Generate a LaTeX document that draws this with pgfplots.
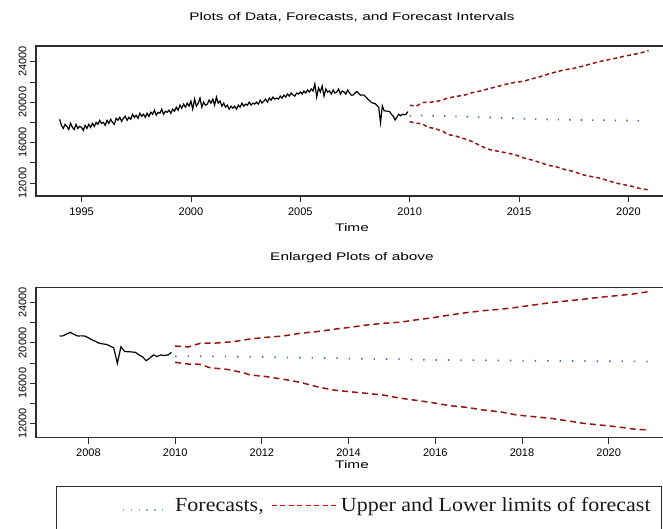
\documentclass[border=0pt]{standalone}
\usepackage{fontspec}
\setmainfont{Liberation Serif}
\newfontfamily\arial{Liberation Sans}
\newfontfamily\titlefont[FakeStretch=1.4]{Liberation Sans}
\newfontfamily\legfont[FakeStretch=1.1]{Liberation Serif}
\usepackage{pgfplots}
\usepackage{pgfplotstable}
\pgfplotsset{compat=1.18}
\definecolor{fred}{RGB}{150,20,20}
\definecolor{fblue}{RGB}{60,110,185}
\definecolor{lblue}{RGB}{125,175,228}
\definecolor{framec}{RGB}{45,45,45}

\pgfplotstableread{
y
18300
17700
17400
17800
17600
17300
17900
17500
17300
17800
17400
17600
17500
17200
17700
17400
17800
17500
17900
17600
18000
17800
18200
17900
18000
17700
18200
17900
18300
18000
17800
18400
18200
18500
18100
18400
18600
18200
18500
18300
18800
18500
18700
18400
18900
18600
18800
18500
18900
18600
19000
18800
19200
18700
19000
18900
19300
18800
19100
19000
19200
18900
19300
19100
19500
19200
19700
19400
19800
19500
19900
19600
20100
19300
20300
19600
19900
20400
19500
20000
19700
19800
20200
19900
20300
19700
20500
19900
20100
19600
19900
19500
19700
19300
19600
19400
19600
19300
19700
19500
19900
19600
19800
19700
20000
19700
19900
19800
20000
19800
20200
19900
20100
20300
20000
20400
20200
20500
20300
20400
20300
20600
20400
20700
20500
20800
20600
20900
20700
20600
20900
20800
21000
20800
21100
20900
21200
21000
21300
21100
21800
20500
21400
21000
21600
20600
21300
21000
21100
20800
21200
20900
21000
21300
20800
21100
21000
20800
21200
20900
20690
20700
20900
21050
20850
20690
20700
20690
20500
20300
20150
19960
19900
19850
19690
19500
17970
19620
19150
19120
19100
19060
18800
18600
18230
18500
18800
18650
18800
18750
18800
19060
}\obstab

\pgfplotstableread{
x y
2010.00 19690
2010.30 19600
2010.58 19960
2010.96 19990
2011.34 20120
2011.73 20390
2012.11 20560
2012.50 20690
2012.88 20950
2013.27 21120
2013.65 21350
2014.03 21550
2014.42 21780
2014.80 21950
2015.19 22060
2015.57 22300
2015.95 22510
2016.34 22780
2016.72 23010
2017.11 23210
2017.49 23340
2017.88 23540
2018.26 23770
2018.65 24000
2019.03 24170
2019.41 24340
2019.80 24540
2020.18 24700
2020.57 24870
2020.92 25100
}\uppertab

\pgfplotstableread{
x y
2010.00 18070
2010.30 17900
2010.58 17870
2010.80 17530
2011.19 17370
2011.57 17040
2011.73 16810
2012.11 16640
2012.50 16380
2012.88 16080
2013.27 15640
2013.65 15310
2014.03 15140
2014.42 14980
2014.80 14810
2015.19 14500
2015.57 14280
2015.95 14040
2016.34 13750
2016.72 13590
2017.11 13320
2017.49 13150
2017.88 12830
2018.26 12660
2018.65 12500
2019.03 12260
2019.41 12000
2019.80 11830
2020.18 11660
2020.57 11430
2020.92 11330
}\lowertab

\pgfplotstableread{
x y
2010.00 18650
2010.50 18680
2011.00 18650
2012.00 18600
2013.00 18520
2014.00 18450
2015.00 18380
2016.00 18300
2017.00 18270
2018.00 18230
2019.00 18200
2020.00 18180
2020.92 18150
}\fcasttab

\pgfplotsset{
  tsaxis/.style={
    scale only axis, width=636pt, height=150pt,
    axis line style={framec, line width=1.1pt},
    tick align=outside, xtick pos=bottom, ytick pos=left,
    major tick length=6pt,
    tick style={framec, line width=0.8pt},
    scaled y ticks=false, scaled x ticks=false,
    ytick={12000,14000,16000,18000,20000,22000,24000},
    yticklabels={12000,,16000,,20000,,24000},
    yticklabel style={rotate=90, anchor=south, font=\arial\fontsize{11}{12}\selectfont},
    xticklabel style={font=\arial\fontsize{11}{12}\selectfont, yshift=-2pt},
    clip=true,
  },
}

\begin{document}
\begin{tikzpicture}
\node[font=\titlefont\fontsize{11}{13}\selectfont] at (352pt,-17.5pt) {Plots of Data, Forecasts, and Forecast Intervals};
\begin{axis}[tsaxis, at={(36pt,-46pt)}, anchor=north west,
  xmin=1992.92, xmax=2021.99, ymin=10714, ymax=25553,
  xtick={1995,2000,2005,2010,2015,2020},
  xticklabels={1995,2000,2005,2010,2015,2020}]
\addplot[black, line width=1.2pt] table[x expr=1994+\coordindex/12, y=y] {\obstab};
\addplot[fred, line width=1.5pt, dash pattern=on 4pt off 3pt] table[x=x, y=y] {\uppertab};
\addplot[fred, line width=1.5pt, dash pattern=on 4pt off 3pt] table[x=x, y=y] {\lowertab};
\addplot[fblue, line width=1.7pt, dash pattern=on 1.4pt off 10pt] table[x=x, y=y] {\fcasttab};
\end{axis}
\node[font=\titlefont\fontsize{11}{13}\selectfont] at (352pt,-228pt) {Time};

\node[font=\titlefont\fontsize{11}{13}\selectfont] at (352pt,-258pt) {Enlarged Plots of above};
\begin{axis}[tsaxis, at={(36pt,-287.5pt)}, anchor=north west,
  xmin=2006.79, xmax=2021.46, ymin=10587, ymax=25512,
  xtick={2008,2010,2012,2014,2016,2018,2020},
  xticklabels={2008,2010,2012,2014,2016,2018,2020}]
\addplot[black, line width=1.2pt, skip coords between index={0}{160}] table[x expr=1994+\coordindex/12, y=y] {\obstab};
\addplot[fred, line width=1.5pt, dash pattern=on 6pt off 4pt] table[x=x, y=y] {\uppertab};
\addplot[fred, line width=1.5pt, dash pattern=on 6pt off 4pt] table[x=x, y=y] {\lowertab};
\addplot[fblue, line width=1.7pt, dash pattern=on 1.4pt off 11pt] table[x=x, y=y] {\fcasttab};
\end{axis}
\node[font=\titlefont\fontsize{11}{13}\selectfont] at (352pt,-465pt) {Time};

% legend box
\draw[framec, line width=1pt] (56pt,-486.7pt) rectangle (661.7pt,-545pt);
\draw[draw=lblue, line width=1.4pt, dash pattern=on 1.3pt off 6.5pt] (123pt,-510pt) -- (166pt,-510pt);
\node[anchor=base west, inner sep=0pt, font=\legfont\fontsize{20}{24}\selectfont, text=black!90] at (175pt,-511.7pt) {Forecasts,};
\draw[draw={rgb,255:red,220;green,0;blue,0}, line width=1.4pt, dash pattern=on 5pt off 3.5pt] (271.7pt,-505.5pt) -- (339pt,-505.5pt);
\node[anchor=base west, inner sep=0pt, font=\legfont\fontsize{20}{24}\selectfont, text=black!90] at (340.7pt,-511.7pt) {Upper and Lower limits of forecast};

\pgfresetboundingbox
\path[use as bounding box] (0pt,0pt) rectangle (663pt,-529pt);
\end{tikzpicture}
\end{document}
